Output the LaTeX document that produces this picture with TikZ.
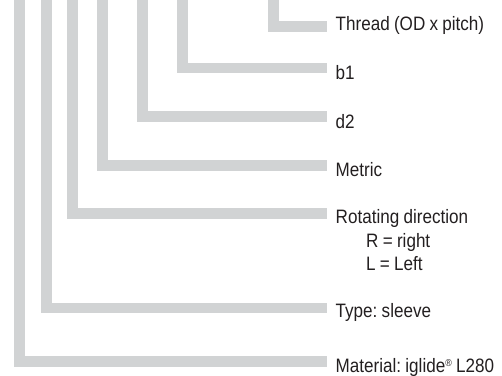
\documentclass[tikz,border=0pt]{standalone}
\usepackage{fontspec}
\setmainfont[FakeStretch=0.88,WordSpace=0.9]{Liberation Sans}
\definecolor{bargray}{HTML}{D1D3D4}
\definecolor{textgray}{HTML}{231F20}
\frenchspacing
\begin{document}
\begin{tikzpicture}[x=1pt,y=-1pt,
  bar/.style={draw=bargray,line width=10.8pt,line join=miter,line cap=butt},
  lbl/.style={anchor=base west,inner sep=0pt,text=textgray,font=\fontsize{19.4}{23}\selectfont\frenchspacing}]
\useasboundingbox (0,0) rectangle (502,375);
% bar start (top, outside picture) and end (right) points
\coordinate (t1) at (19.5,-6);  \coordinate (e1) at (327,361.5);
\coordinate (t2) at (46.5,-6);  \coordinate (e2) at (327,308);
\coordinate (t3) at (72.5,-6);  \coordinate (e3) at (327,213.5);
\coordinate (t4) at (102.5,-6); \coordinate (e4) at (327,165.5);
\coordinate (t5) at (142.5,-6); \coordinate (e5) at (327,116.5);
\coordinate (t6) at (182.5,-6); \coordinate (e6) at (327,68);
\coordinate (t7) at (273.5,-6); \coordinate (e7) at (327,26.5);
\draw[bar] (t1) |- (e1);
\draw[bar] (t2) |- (e2);
\draw[bar] (t3) |- (e3);
\draw[bar] (t4) |- (e4);
\draw[bar] (t5) |- (e5);
\draw[bar] (t6) |- (e6);
\draw[bar] (t7) |- (e7);
% labels
\node[lbl] (thread) at (335.5,30.5) {Thread (OD x pitch)};
\node[lbl] (b1) at (335.5,79.5) {b1};
\node[lbl] (d2) at (335.5,128) {d2};
\node[lbl] (metric) at (335.5,176) {Metric};
\node[lbl] (rot) at (335.5,223.3) {Rotating direction};
\node[lbl] (rr) at (366,247) {R = right};
\node[lbl] (ll) at (366,270.5) {L = Left};
\node[lbl] (type) at (335.5,317.3) {Type: sleeve};
\node[lbl] (mat) at (335.5,372.3) {Material: iglide\raisebox{0.55ex}{\fontsize{10}{10}\selectfont ®} L280};
\end{tikzpicture}
\end{document}
